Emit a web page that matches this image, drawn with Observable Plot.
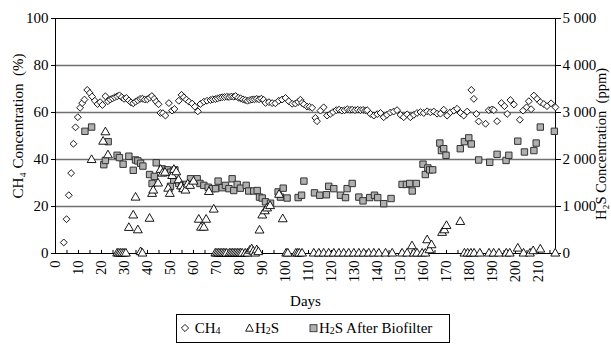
<!DOCTYPE html>
<html><head><meta charset="utf-8">
<script src="https://cdn.jsdelivr.net/npm/d3@7"></script>
<script src="https://cdn.jsdelivr.net/npm/@observablehq/plot@0.6"></script>
<style>
html,body{margin:0;padding:0;background:#fff;overflow:hidden;width:611px;height:344px;}
body{font-family:"Liberation Serif","Times New Roman",serif;color:#000;position:relative;}
#legend{position:absolute;left:176px;top:314px;width:274px;height:29px;border:1px solid #000;box-sizing:border-box;font-size:15px;}
#legend .it{position:absolute;top:5px;white-space:nowrap;line-height:17px;}
#legend svg{vertical-align:0px;margin-right:1px;}
#legend .s{font-size:10px;vertical-align:-1px;}
</style></head><body>
<div id="chart"></div>
<div id="legend">
  <span class="it" style="left:3px"><svg width="10" height="10" viewBox="-5 -5 10 10"><path d="M0,-3.6L3.6,0L0,3.6L-3.6,0Z" fill="#fff" stroke="#000" stroke-width="0.9"/></svg> CH<span class="s">4</span></span>
  <span class="it" style="left:68px"><svg width="9" height="10" viewBox="-4.5 -5 9 10"><path d="M0,-4L3.8,3.2L-3.8,3.2Z" fill="#fff" stroke="#000" stroke-width="0.9"/></svg>H<span class="s">2</span>S</span>
  <span class="it" style="left:132px"><svg width="9" height="10" viewBox="-4.5 -5 9 10"><rect x="-3.5" y="-3.3" width="7" height="7" fill="#b0b0b0" stroke="#333" stroke-width="0.9"/></svg>H<span class="s">2</span>S After Biofilter</span>
</div>
<script>
// CH4 concentration (%) : [day, value]
const ch4Series = [
[3.6,4.7],[4.8,14.6],[5.8,24.8],[6.8,34.2],[7.8,46.7],[8.7,53.7],[9.7,58],[10.7,62],[11.6,64],[12.6,65.5],
[13.8,69.6],[14.9,68.3],[15.9,66.8],[17.1,65],[18.3,63.6],[19.4,64.4],[20.4,63.2],[21.7,66.9],[22.8,64.8],[23.8,65.5],
[24.8,66],[25.8,66.5],[26.8,66.9],[27.8,67.3],[28.8,66.5],[29.8,65.8],[30.8,66.2],[31.9,65.1],[32.8,64.3],[33.8,63.9],
[34.8,64.6],[35.8,65.2],[36.8,65.8],[37.8,65.9],[38.8,65.5],[39.9,65.6],[40.9,66.3],[41.9,67],[42.9,65.8],[43.8,64.6],
[44.8,63.5],[45.6,59.8],[46.7,59.7],[47.8,58.7],[49.3,64],[50.7,60.8],[51.7,61.5],[53.6,65],[54.8,67.5],[55.8,66.5],
[56.9,65.5],[58,64.6],[59.4,63.8],[60.6,62.5],[61.9,60.5],[63,63.6],[64.5,64.6],[65.9,65],[67.4,65.3],[68.4,65.6],
[69.5,65.7],[70.5,66],[71.5,66.3],[72.5,66.5],[73.5,66.6],[74.5,66.7],[75.5,66.6],[76.5,66.8],[77.5,66.7],[78.3,67],
[79.5,66.3],[80.5,66],[81.5,65.6],[82.5,65.3],[83.5,65],[84.5,65.3],[85.5,65.5],[86.5,65.6],[87.5,65.8],[88.5,65.6],
[89.5,65.9],[90.5,65.4],[91.3,64.1],[92.8,64.4],[94.2,64],[95.6,63.9],[97.1,65],[98.5,65.5],[100,66.2],[101.4,64.8],
[102.9,63.7],[104.3,63.8],[105.5,64.5],[106.5,65.4],[107.2,64.1],[108,63.5],[109.4,62.5],[110.5,62.4],[111.6,62],[113,57.7],
[113.7,56.3],[115.2,60.8],[116.6,62.2],[118.1,58.7],[119.5,59.4],[120.7,60.2],[122.1,61],[123.3,61.2],[124.5,60.8],[125.7,61],
[126.9,61.4],[128,61.1],[129,61.2],[130.2,61],[131.4,61.2],[132.6,61],[133.7,61.1],[134.8,60.9],[135.5,61],[137,59.4],
[138.4,58.7],[139.9,59.3],[141.3,59.8],[142.7,58],[144.1,59],[145.6,60],[147,60.4],[148.5,61],[150,59],[151.4,58],
[152.9,59.2],[154.3,58],[155.8,59],[157.2,59.8],[158.7,60.2],[160.1,59.8],[161.6,60.5],[163,60.1],[164.5,60.4],[165.9,59.5],
[167.4,59.5],[168.8,61.2],[170.3,58.7],[171.7,60.1],[173.2,60.8],[174.6,61.6],[176.1,59.8],[177.5,58.7],[179,60.4],[180.8,69.6],
[181.9,65.8],[183,59.4],[184,56.2],[187,55.2],[188.4,61],[189.7,61.3],[190.6,61],[192,56.3],[193.9,64],[195.2,62.7],
[196.4,59.4],[197.8,65.3],[199.3,63.4],[201.9,56.9],[203.3,60.8],[204.8,62.2],[205.8,64.8],[206.8,61.4],[208,67.2],[209.4,65.8],
[210.8,64.4],[212.3,63.6],[213.7,62.7],[215.5,63.9],[217.4,62.2]
];
// H2S raw concentration (ppm) : [day, value]
const h2sSeries = [
[15.7,1990],[20.7,2380],[21.7,2580],[22.8,2090],[26.8,0],[27.5,0],[28.2,0],[29,0],[29.8,0],[30.6,0],
[31.9,545],[33.8,810],[34.8,1190],[35.8,495],[37,30],[37.8,0],[40.9,740],[42,1270],[42.5,1340],[44.6,1490],
[45.7,1780],[46.5,1700],[47.6,1720],[49,1380],[49.7,1270],[50.7,1650],[51.5,1780],[52.5,1730],[53.5,1560],[54.6,1430],
[55.5,1370],[56.5,1340],[57.5,1470],[58.5,1440],[60,1530],[62.3,720],[63.3,550],[64.5,550],[65.5,720],[66.7,1310],
[68.8,935],[69.5,0],[70.2,0],[70.9,0],[71.6,0],[72.3,0],[73,0],[73.7,0],[74.4,0],[75.6,0],
[76.3,0],[77,0],[77.7,0],[78.4,0],[79.1,0],[79.8,0],[80.5,0],[81.2,0],[82.5,0],[83.5,0],
[84.5,60],[85.3,90],[86,40],[86.8,0],[87.5,70],[88.2,30],[88.7,490],[89.9,810],[91,900],[92,960],
[93.3,1010],[97.2,1250],[98.8,730],[100.3,0],[101,0],[104.5,0],[105.3,0],[106,0],[107.2,0],[112.3,0],
[114.5,0],[116.6,0],[118.8,0],[121,0],[123.2,0],[125.3,0],[127.5,0],[129.7,0],[131.9,0],[134,0],
[136.2,0],[138.4,0],[140.6,0],[143.5,0],[146.4,0],[150.7,0],[152.9,0],[155,155],[155.8,0],[157.2,0],
[159.4,0],[160.8,0],[161.6,283],[162.6,70],[163.5,177],[168.1,440],[169.1,495],[170,587],[176,672],[177.8,0],
[179.2,0],[180.6,0],[182,0],[184.5,0],[188.5,0],[190.5,0],[192.8,0],[196,0],[197.5,0],[201,106],
[203.5,0],[206.3,0],[207.7,50],[210.8,85],[217.3,0]
];
// H2S after biofilter (ppm) : [day, value]
const bioSeries = [
[12.8,2600],[15.7,2690],[21,1890],[21.7,1980],[22.9,2380],[26.8,2090],[27.8,2040],[29.4,1900],[31.9,2070],[33.8,1770],
[34.8,1990],[35.8,1970],[37,1920],[38,1860],[40.9,1680],[42,1490],[43,1640],[43.8,1930],[46.4,1800],[48.6,1780],
[50,1730],[50,1430],[51.4,1560],[51.9,1780],[53.6,1490],[55,1430],[56.8,1470],[58.7,1590],[61.6,1590],[62.8,1490],
[64.5,1450],[66.4,1410],[68.1,1380],[69.6,1380],[70.7,1540],[72.5,1400],[73.9,1450],[75.4,1380],[76.8,1590],[77.5,1340],
[79,1470],[80.4,1390],[82.9,1450],[84,1330],[86.2,1330],[87.7,1340],[88.7,1200],[89.9,1180],[91.3,1100],[93.5,1070],
[96.8,1310],[97.8,1200],[99,1390],[100.7,1180],[105.5,1190],[107,1240],[108,1540],[112.6,1290],[114.9,1240],[117.8,1250],
[118.8,1430],[121,1380],[123.9,1240],[126.1,1190],[126.8,1380],[129,1490],[131.9,1200],[133.7,1120],[136.6,1190],[138.7,1240],
[140.1,1190],[142.7,1060],[145.9,1170],[150.7,1470],[152.6,1470],[154,1490],[155.1,1330],[156.9,1490],[159.8,1900],[160.8,1680],
[161.9,1820],[162.7,1780],[164,1780],[167.1,2350],[167.8,2190],[168.8,2230],[169.8,2090],[176,2230],[177.8,2380],[179.7,2460],
[180.8,2330],[184,1990],[188.8,1940],[192,2110],[195.9,1980],[197.1,2090],[201,2390],[203.9,2160],[208,2190],[209,2350],
[210.8,2690],[216.9,2600]
];
const dayTicks = d3.range(0, 211, 10);
const minorDayTicks = d3.range(5, 216, 5);
const leftTicks = [0, 20, 40, 60, 80, 100];
const rightTickLabels = ["0", "1 000", "2 000", "3 000", "4 000", "5 000"];
const gridValues = [20, 40, 60, 80];
const xTitle = "Days";
const leftTitle = "CH₄ Concentration\u2002(%)";
const rightTitle = "H₂S Concentration\u2002(ppm)";
const ppmPerPercent = 50; // right axis 0–5000 ppm aligned with left 0–100 %

const ch4 = ch4Series.map(([day, v]) => ({day, v}));
const h2s = h2sSeries.map(([day, ppm]) => ({day, v: ppm / ppmPerPercent}));
const bio = bioSeries.map(([day, ppm]) => ({day, v: ppm / ppmPerPercent}));

const chart = Plot.plot({
  width: 611,
  height: 312,
  marginLeft: 55,
  marginRight: 56,
  marginTop: 18,
  marginBottom: 59,
  style: {fontFamily: "'Liberation Serif', 'Times New Roman', serif", fontSize: "14px", color: "#000", background: "#fff", overflow: "hidden"},
  x: {domain: [0, 217.4], axis: null},
  y: {domain: [0, 100], axis: null},
  marks: [
    Plot.ruleY(gridValues, {stroke: "#707070", strokeWidth: 1.4}),
    Plot.ruleX(minorDayTicks, {y1: 0, y2: 1.3, stroke: "#000", strokeWidth: 1}),
    Plot.frame({stroke: "#000", strokeWidth: 1}),
    Plot.text(dayTicks, {x: d => d, frameAnchor: "bottom", dy: 7, rotate: -90, textAnchor: "end", lineAnchor: "middle", fontSize: 14.5, text: d => String(d)}),
    Plot.axisY({ticks: leftTicks, tickSize: 4, tickPadding: 3, label: null, fontSize: 15}),
    Plot.axisY({anchor: "right", ticks: leftTicks, tickSize: 5, tickPadding: 2, label: null, fontSize: 15,
      tickFormat: d => rightTickLabels[leftTicks.indexOf(d)]}),
    Plot.text([xTitle], {frameAnchor: "bottom", dy: 48, fontSize: 15, textAnchor: "middle", lineAnchor: "middle"}),
    Plot.text([leftTitle], {frameAnchor: "left", dx: -37, dy: -10, rotate: -90, fontSize: 15, textAnchor: "middle", lineAnchor: "middle"}),
    Plot.text([rightTitle], {frameAnchor: "right", dx: 46, dy: 8, rotate: -90, fontSize: 14.5, textAnchor: "middle", lineAnchor: "middle"}),
    Plot.dot(bio, {x: "day", y: "v", symbol: "square", r: 3.6, fill: "#b0b0b0", stroke: "#333", strokeWidth: 1}),
    Plot.dot(h2s, {x: "day", y: "v", symbol: "triangle", r: 3.3, fill: "#fff", stroke: "#000", strokeWidth: 0.9}),
    Plot.dot(ch4, {x: "day", y: "v", symbol: "diamond2", r: 3.1, fill: "#fff", stroke: "#000", strokeWidth: 0.9})
  ]
});
document.getElementById("chart").appendChild(chart);
</script>
</body></html>
